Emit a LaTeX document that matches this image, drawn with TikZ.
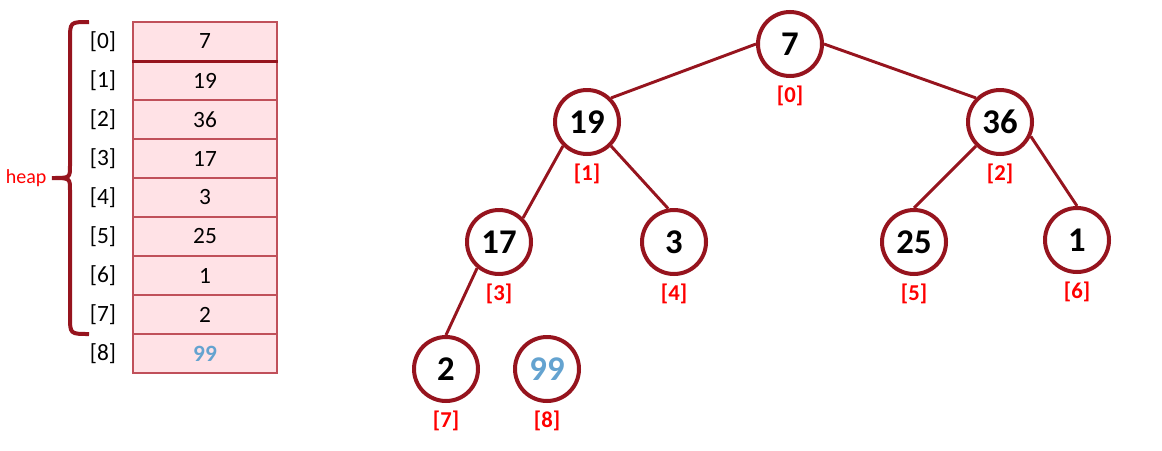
\documentclass[tikz,border=0pt]{standalone}
\usepackage{fontspec}
\setmainfont{Carlito}
\usetikzlibrary{positioning}
\definecolor{heapRed}{RGB}{150,20,30}
\definecolor{cellFill}{RGB}{255,226,230}
\definecolor{cellLine}{RGB}{192,80,90}
\definecolor{newBlue}{RGB}{100,163,208}
\definecolor{idxRed}{RGB}{255,0,0}

\begin{document}
\begin{tikzpicture}[x=0.75pt,y=-0.75pt,
  cell/.style={draw=cellLine,fill=cellFill,line width=0.9pt,minimum width=108pt,
               minimum height=29.25pt,inner sep=0pt,font=\fontsize{17.5}{19}\selectfont},
  slot/.style={font=\fontsize{17.5}{19}\selectfont,inner sep=0pt},
  nd/.style={circle,draw=heapRed,line width=3pt,fill=white,minimum size=48pt,
             inner sep=0pt,font=\fontsize{26}{30}\selectfont\bfseries},
  idx/.style={font=\fontsize{17}{20}\selectfont\bfseries,text=idxRed,inner sep=1pt},
  edge/.style={draw=heapRed,line width=2.2pt}]

\useasboundingbox (0,0) rectangle (1162,450);

% array
\foreach \v [count=\i from 0] in {7,19,36,17,3,25,1,2} {
  \node[cell] (c\i) at (205,41.5+39*\i) {\v};
  \node[slot] (p\i) at (103,41.5+39*\i) {[\i]};
}
\node[cell,text=newBlue,font=\fontsize{17.5}{19}\selectfont\bfseries] (c8) at (205,353.5) {99};
\node[slot] (p8) at (103,353.5) {[8]};
\draw[heapRed,line width=2pt] (c0.south west) -- (c0.south east);

% brace
\coordinate (tip) at (52,178);
\draw[heapRed,line width=3pt] (89,22) .. controls (70,22) .. (70,40) -- (70,166)
  .. controls (70,178) .. (tip) .. controls (70,178) .. (70,190) -- (70,316)
  .. controls (70,334) .. (89,334);
\node[font=\fontsize{15}{17}\selectfont,text=idxRed,inner sep=1pt,left=3pt of tip] (heap) {heap};

% tree
\node[nd] (n0) at (790,44) {7};
\node[nd] (n1) at (587,122) {19};
\node[nd] (n2) at (1000,122) {36};
\node[nd] (n3) at (499,242) {17};
\node[nd] (n4) at (674,242) {3};
\node[nd] (n5) at (914,242) {25};
\node[nd] (n6) at (1077,240) {1};
\node[nd] (n7) at (446,369) {2};
\node[nd,text=newBlue] (n8) at (547,369) {99};

\foreach \i in {0,...,8}
  \node[idx,below=5pt of n\i] (i\i) {[\i]};

\draw[edge] (n0.west) -- (n1.north east);
\draw[edge] (n0.east) -- (n2.north west);
\draw[edge] (n1.south west) -- (n3.north east);
\draw[edge] (n1.south east) -- (n4.100);
\draw[edge] (n2.south west) -- (n5.north);
\draw[edge] (n2.-25) -- (n6.north);
\draw[edge] (n3.-130) -- (n7.north);
\end{tikzpicture}
\end{document}
